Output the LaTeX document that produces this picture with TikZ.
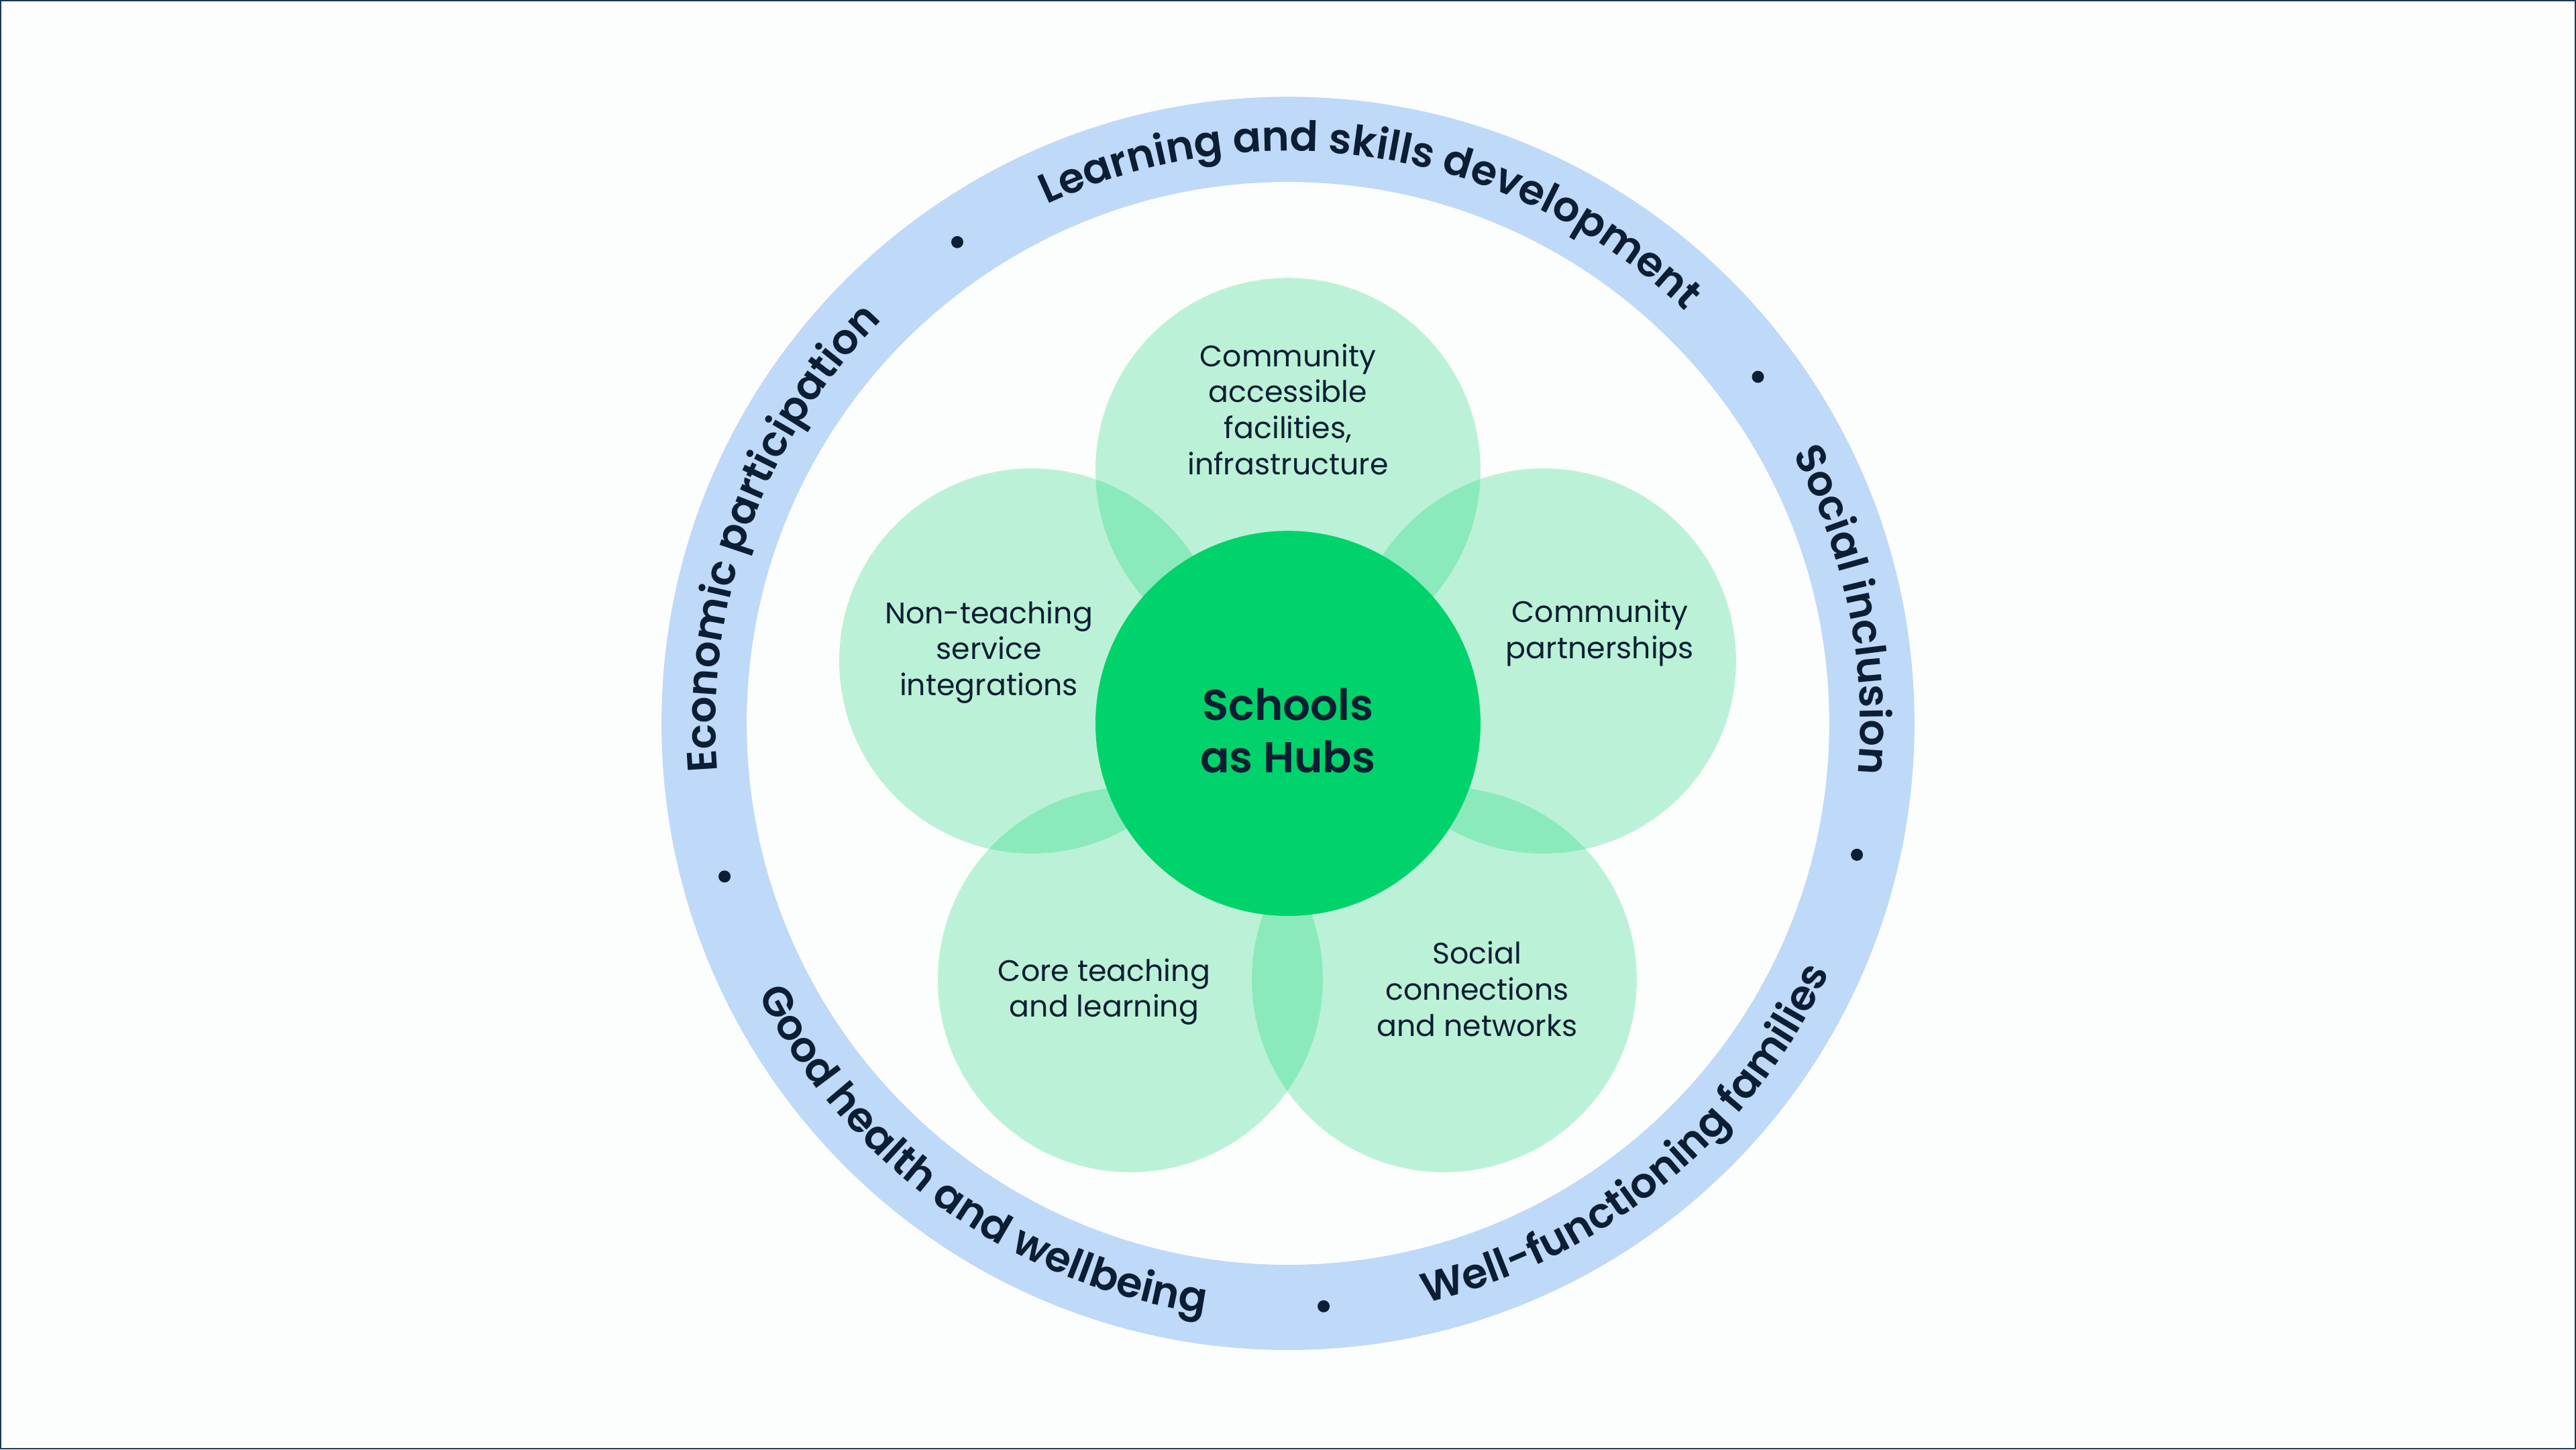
\documentclass[tikz,border=0pt]{standalone}
\usepackage{fontspec}
\setmainfont{Poppins}
\newfontfamily\ringfont{Poppins SemiBold}
\usepackage{tikz}
\usetikzlibrary{decorations.text}

\definecolor{paper}{HTML}{FCFDFD}
\definecolor{edge}{HTML}{1F3A56}
\definecolor{ringblue}{HTML}{BFD9F8}
\definecolor{hubgreen}{HTML}{00D36B}
\definecolor{ink}{HTML}{0B1E33}

\tikzset{
  petal/.style={circle, minimum size=5.74cm, inner sep=0pt, fill=hubgreen, fill opacity=0.255},
  petaltext/.style={align=center, text=ink, font=\fontsize{12.6}{15.3}\selectfont},
  hub/.style={circle, minimum size=5.74cm, inner sep=0pt, fill=hubgreen},
  hubtext/.style={align=center, text=ink, font=\ringfont\fontsize{18.3}{22.3}\selectfont},
  ringlabel/.style={decorate, decoration={text along path, text align=center, text color=ink, text={|\ringfont\fontsize{17.7}{21}\selectfont|#1}}}
}

\begin{document}
\begin{tikzpicture}
\fill[paper] (-19.2,-10.82) rectangle (19.2,10.78);
\draw[edge, line width=0.025cm] (-19.19,-10.81) rectangle (19.19,10.77);
\useasboundingbox (-19.2,-10.82) rectangle (19.2,10.78);

% outer ring
\fill[ringblue, even odd rule] (0,0) circle (9.34) (0,0) circle (8.07);
\foreach \a in {124.5,36.4,-13,-86.5,195.2} \fill[ink] (\a:8.705) circle (0.09);

\path[ringlabel={Learning and skills development}] (120.5:8.53) arc[start angle=120.5, end angle=40.5, radius=8.53];
\path[ringlabel={Social inclusion}] (51.5:8.53) arc[start angle=51.5, end angle=-28.5, radius=8.53];
\path[ringlabel={Economic participation}] (200:8.53) arc[start angle=200, end angle=120, radius=8.53];
\path[ringlabel={Good health and wellbeing}] (194.5:8.88) arc[start angle=194.5, end angle=274.5, radius=8.88];
\path[ringlabel={Well-functioning families}] (-90.7:8.88) arc[start angle=-90.7, end angle=-10.7, radius=8.88];

% petals
\node[petal] (top) at (0,3.77) {};
\node[petal] (right) at (3.81,0.93) {};
\node[petal] (left) at (-3.82,0.93) {};
\node[petal] (lowleft) at (-2.35,-3.82) {};
\node[petal] (lowright) at (2.33,-3.82) {};

\node[petaltext] (toptext) at (0,4.68) {Community\\accessible\\facilities,\\infrastructure};
\node[petaltext] (righttext) at (4.65,1.35) {Community\\partnerships};
\node[petaltext] (lefttext) at (-4.46,1.06) {Non-teaching\\service\\integrations};
\node[petaltext] (lowlefttext) at (-2.74,-4.0) {Core teaching\\and learning};
\node[petaltext] (lowrighttext) at (2.82,-3.96) {Social\\connections\\and networks};

\node[hub] (hub) at (0,0) {};
\node[hubtext] (hubtext) at (0,-0.11) {Schools\\as Hubs};
\end{tikzpicture}
\end{document}
